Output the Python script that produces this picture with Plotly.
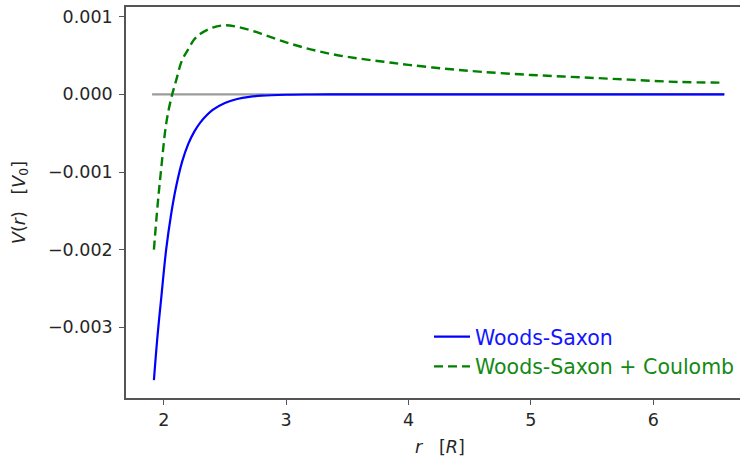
import plotly.graph_objects as go

# Radial distance in units of the nuclear radius R
r = [1.92, 1.95, 1.98, 2.02, 2.06, 2.10, 2.15, 2.20, 2.25, 2.30, 2.40, 2.50,
     2.60, 2.70, 2.80, 3.00, 3.20, 3.40, 3.60, 3.80, 4.00, 4.30, 4.60, 5.00,
     5.40, 5.80, 6.20, 6.58]

# Woods-Saxon potential, in units of V0
v_ws = [-0.00368, -0.00310, -0.00262, -0.00200, -0.00155, -0.00120, -0.00087,
        -0.00064, -0.00048, -0.00036, -0.00020, -0.00011, -0.000060, -0.000032,
        -0.000017, -0.000005, -0.0000015, -0.0000005, -0.0000001, 0.0, 0.0, 0.0,
        0.0, 0.0, 0.0, 0.0, 0.0, 0.0]

# Woods-Saxon plus Coulomb barrier, in units of V0
v_ws_coul = [-0.00200, -0.00143, -0.00095, -0.00038, -0.00006, 0.00017, 0.00044,
             0.00058, 0.00071, 0.00078, 0.00086, 0.00089, 0.00087, 0.00083,
             0.00078, 0.00067, 0.00058, 0.00051, 0.00046, 0.00042, 0.00038,
             0.00033, 0.00029, 0.00025, 0.00022, 0.00019, 0.00016, 0.00015]

# Zero reference line
zero_r = [1.905, 6.58]
zero_v = [0.0, 0.0]

x_ticks = [2, 3, 4, 5, 6]
x_tick_text = ["2", "3", "4", "5", "6"]
y_ticks = [0.001, 0.0, -0.001, -0.002, -0.003]
y_tick_text = ["0.001", "0.000", "\u22120.001", "\u22120.002", "\u22120.003"]

FONT = "DejaVu Sans, Liberation Sans, sans-serif"
AXIS_COLOR = "#555555"

fig = go.Figure()
fig.add_trace(go.Scatter(x=zero_r, y=zero_v, mode="lines",
                         line=dict(color="#9c9c9c", width=2.2),
                         showlegend=False, hoverinfo="skip"))
fig.add_trace(go.Scatter(x=r, y=v_ws, mode="lines", line_shape="spline",
                         line=dict(color="#0000ff", width=2.2),
                         name="<span style='color:#1414ff'>Woods-Saxon</span>"))
fig.add_trace(go.Scatter(x=r, y=v_ws_coul, mode="lines", line_shape="spline",
                         line=dict(color="#008000", width=2.4, dash="9px,5px"),
                         name="<span style='color:#148a14'>Woods-Saxon + Coulomb</span>"))

fig.update_layout(
    width=740, height=461,
    margin=dict(l=126, r=0, t=7, b=63),
    paper_bgcolor="white", plot_bgcolor="white",
    font=dict(family=FONT, size=17.5, color="#262626"),
    legend=dict(x=0.4935, y=0.118, xanchor="left", yanchor="middle",
                bgcolor="rgba(0,0,0,0)", font=dict(size=20.5),
                itemwidth=36, tracegroupgap=0),
    annotations=[dict(text="<i>r</i>\u00a0\u00a0\u00a0[<i>R</i>]",
                      xref="paper", yref="paper", x=0.5106, y=-0.125,
                      xanchor="center", yanchor="middle", showarrow=False,
                      font=dict(size=17.5))],
)
fig.update_xaxes(range=[1.692, 6.708], tickvals=x_ticks, ticktext=x_tick_text,
                 showgrid=False, zeroline=False, showline=True, mirror=True,
                 linecolor=AXIS_COLOR, linewidth=1.6, ticks="outside",
                 ticklen=5, tickwidth=1.4, tickcolor=AXIS_COLOR)
fig.update_yaxes(range=[-0.003910, 0.001125], tickvals=y_ticks,
                 ticktext=y_tick_text, showgrid=False, zeroline=False,
                 showline=True, mirror=False, linecolor=AXIS_COLOR,
                 linewidth=1.6, ticks="outside", ticklen=5, tickwidth=1.4,
                 tickcolor=AXIS_COLOR, ticklabelstandoff=3,
                 title=dict(text="<i>V</i>(<i>r</i>)\u00a0\u00a0\u00a0[<i>V</i><sub>0</sub>]",
                            standoff=18, font=dict(size=17.5)))

fig.write_html("out.html")
